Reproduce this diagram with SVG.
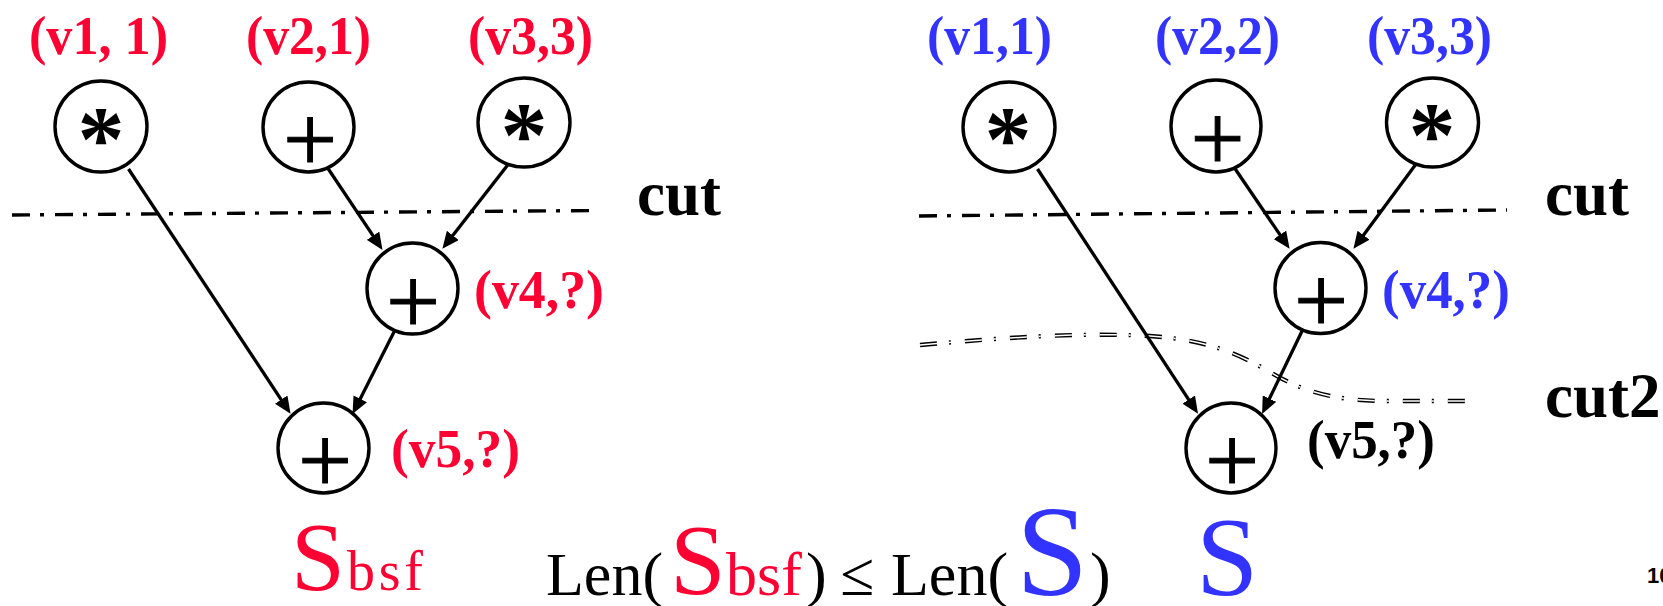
<svg xmlns="http://www.w3.org/2000/svg" width="1663" height="606" viewBox="0 0 1663 606">
<style>
.node ellipse{fill:#fff;stroke:#000;stroke-width:3.4}
.sym{font-family:"Liberation Serif",serif;fill:#000;text-anchor:middle}
.star{font-size:94px;font-weight:bold}
.plus{font-size:96px;stroke:#000;stroke-width:1}
.lbl{font-family:"Liberation Serif",serif;font-weight:bold;font-size:55px}
.red{fill:#FF0033}
.blue{fill:#3333FF}
.blk{fill:#000}
.cutlbl{font-family:"Liberation Serif",serif;font-weight:bold;font-size:63px;fill:#000}
.conn line{stroke:#000;stroke-width:3.3}
.cut{fill:none;stroke:#000;stroke-width:3.4;stroke-dasharray:18 10 4 11}
.bot{font-family:"Liberation Serif",serif}
</style>
<defs>
<marker id="ah" viewBox="0 0 17 15" markerWidth="17" markerHeight="15" refX="8" refY="7.5" orient="auto" markerUnits="userSpaceOnUse">
<path d="M0,0 L17,7.5 L0,15 z" fill="#000"/>
</marker>
</defs>

<!-- cut lines -->
<g id="cuts">
<line class="cut" x1="12" y1="215" x2="599" y2="210.5"/>
<line class="cut" x1="919" y1="216" x2="1507" y2="210"/>
<path d="M920,345 C1000,338 1080,332 1150,336 C1210,340 1240,355 1270,372 C1300,390 1330,400 1380,401 L1475,401" fill="none" stroke="#000" stroke-width="4.4" stroke-dasharray="17 12 2 14"/>
<path d="M920,345 C1000,338 1080,332 1150,336 C1210,340 1240,355 1270,372 C1300,390 1330,400 1380,401 L1475,401" fill="none" stroke="#fff" stroke-width="1.5" stroke-dasharray="17 12 2 14"/>
<text class="cutlbl" x="637" y="215">cut</text>
<text class="cutlbl" x="1545" y="215">cut</text>
<text class="cutlbl" x="1545" y="417">cut2</text>
</g>

<!-- connectors -->
<g id="connectors" class="conn">
<line x1="128.5" y1="169" x2="285.6" y2="406.3" marker-end="url(#ah)"/>
<line x1="325" y1="164" x2="377.5" y2="242.4" marker-end="url(#ah)"/>
<line x1="510" y1="162" x2="447.9" y2="241.7" marker-end="url(#ah)"/>
<line x1="396.5" y1="327" x2="356.6" y2="405.9" marker-end="url(#ah)"/>
<line x1="1037.5" y1="169" x2="1193.1" y2="406.3" marker-end="url(#ah)"/>
<line x1="1232.5" y1="165" x2="1284.5" y2="241.4" marker-end="url(#ah)"/>
<line x1="1417.5" y1="162" x2="1358.8" y2="241.6" marker-end="url(#ah)"/>
<line x1="1304" y1="327" x2="1266" y2="405.8" marker-end="url(#ah)"/>
</g>

<!-- left graph -->
<g id="L1" class="node"><ellipse cx="101" cy="126.5" rx="46" ry="45.5"/><text class="sym star" x="101" y="170">*</text></g>
<g id="L2" class="node"><ellipse cx="308.5" cy="127" rx="45.5" ry="45"/><text class="sym plus" x="310" y="171">+</text></g>
<g id="L3" class="node"><ellipse cx="524" cy="122.5" rx="46" ry="44.5"/><text class="sym star" x="524" y="166">*</text></g>
<g id="L4" class="node"><ellipse cx="412.5" cy="288.5" rx="45.5" ry="45.5"/><text class="sym plus" x="413" y="333">+</text></g>
<g id="L5" class="node"><ellipse cx="323.5" cy="448" rx="45.5" ry="45"/><text class="sym plus" x="325" y="492">+</text></g>

<!-- right graph -->
<g id="R1" class="node"><ellipse cx="1009" cy="127" rx="46" ry="45"/><text class="sym star" x="1008" y="170">*</text></g>
<g id="R2" class="node"><ellipse cx="1216" cy="126" rx="45" ry="46"/><text class="sym plus" x="1217.5" y="170">+</text></g>
<g id="R3" class="node"><ellipse cx="1432.5" cy="122.5" rx="46" ry="44.5"/><text class="sym star" x="1432" y="166">*</text></g>
<g id="R4" class="node"><ellipse cx="1320.5" cy="288" rx="45.5" ry="45.5"/><text class="sym plus" x="1321" y="332">+</text></g>
<g id="R5" class="node"><ellipse cx="1231" cy="448" rx="45" ry="45"/><text class="sym plus" x="1232" y="492">+</text></g>

<!-- labels -->
<g id="labels" class="lbl">
<text class="red" x="29" y="54" textLength="139" lengthAdjust="spacingAndGlyphs">(v1, 1)</text>
<text class="red" x="246" y="54" textLength="125" lengthAdjust="spacingAndGlyphs">(v2,1)</text>
<text class="red" x="468" y="54" textLength="125" lengthAdjust="spacingAndGlyphs">(v3,3)</text>
<text class="red" x="474" y="308" textLength="130" lengthAdjust="spacingAndGlyphs">(v4,?)</text>
<text class="red" x="391" y="467" textLength="129" lengthAdjust="spacingAndGlyphs">(v5,?)</text>
<text class="blue" x="927" y="54" textLength="125" lengthAdjust="spacingAndGlyphs">(v1,1)</text>
<text class="blue" x="1155" y="54" textLength="125" lengthAdjust="spacingAndGlyphs">(v2,2)</text>
<text class="blue" x="1367" y="54" textLength="125" lengthAdjust="spacingAndGlyphs">(v3,3)</text>
<text class="blue" x="1382" y="308" textLength="128" lengthAdjust="spacingAndGlyphs">(v4,?)</text>
<text class="blk" x="1307" y="458" textLength="128" lengthAdjust="spacingAndGlyphs">(v5,?)</text>
</g>

<!-- bottom formula -->
<g id="formula" class="bot">
<text class="red" x="291" y="590" font-size="97">S</text>
<text class="red" x="347" y="590" font-size="56" textLength="76">bsf</text>
<text class="blk" x="546" y="595" font-size="62">Len(</text>
<text class="red" x="670" y="593" font-size="100">S</text>
<text class="red" x="726" y="595" font-size="62">bsf</text>
<text class="blk" x="806" y="595" font-size="62">)</text>
<text class="blk" x="840" y="595" font-size="62">≤</text>
<text class="blk" x="891" y="595" font-size="62">Len(</text>
<text class="blue" x="1016" y="595" font-size="130">S</text>
<text class="blk" x="1090" y="595" font-size="62">)</text>
<text class="blue" x="1196" y="595" font-size="112">S</text>
<text x="1647" y="583" font-family="Liberation Sans, sans-serif" font-weight="bold" font-size="22" fill="#000">10</text>
</g>
</svg>
